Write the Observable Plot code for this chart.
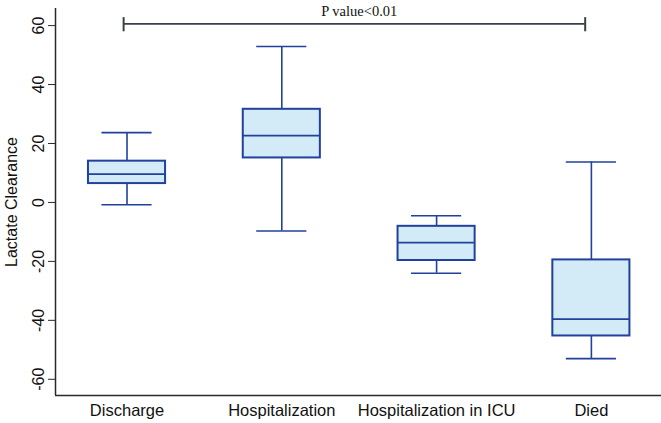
<!DOCTYPE html>
<html>
<head>
<meta charset="utf-8">
<script src="https://cdn.jsdelivr.net/npm/d3@7"></script>
<script src="https://cdn.jsdelivr.net/npm/@observablehq/plot@0.6"></script>
<style>
  html, body { margin: 0; padding: 0; background: #fff; }
  #chart { width: 661px; height: 423px; }
</style>
</head>
<body>
<div id="chart"></div>
<script>
const categories = ["Discharge", "Hospitalization", "Hospitalization in ICU", "Died"];
const whiskerLow  = [-0.8,  -9.7, -24.0, -53.0];
const q1          = [ 6.4,  15.1, -19.7, -45.3];
const median      = [ 9.6,  22.7, -13.6, -39.6];
const q3          = [14.0,  31.6,  -8.1, -19.5];
const whiskerHigh = [23.7,  52.9,  -4.5,  13.7];
const yTicks = [-60, -40, -20, 0, 20, 40, 60];
const yLabel = "Lactate Clearance";
const pLabel = "P value<0.01";
const bracketFrom = "Discharge", bracketTo = "Died";
const bracketY = 60.6;

const rows = categories.map((c, i) => ({
  i, c, lo: whiskerLow[i], q1: q1[i], med: median[i], q3: q3[i], hi: whiskerHigh[i]
}));

const xDomain = [-0.462, 3.453];
const yDomain = [-65.5, 65.8];
const boxHalf = 0.249, capHalf = 0.162;
const stroke = "#21419c";
const fill = "#d3ebf7";
const axisColor = "#2a2a2a";

const iFrom = categories.indexOf(bracketFrom), iTo = categories.indexOf(bracketTo);
const bracket = [{x1: iFrom - 0.022, x2: iTo - 0.04, y: bracketY}];
const bracketEnds = [{x: iFrom - 0.022}, {x: iTo - 0.04}];

const chart = Plot.plot({
  width: 661,
  height: 423,
  marginLeft: 55,
  marginRight: 0,
  marginTop: 8,
  marginBottom: 28,
  style: {fontFamily: "'Liberation Sans', Arial, sans-serif", background: "#fff"},
  x: {domain: xDomain, axis: null},
  y: {domain: yDomain, axis: null},
  marks: [
    // axes lines
    Plot.ruleX([xDomain[0]], {stroke: axisColor, strokeWidth: 1.5}),
    Plot.ruleY([yDomain[0]], {stroke: axisColor, strokeWidth: 1.5}),
    Plot.axisY({
      ticks: yTicks, tickSize: 7, tickPadding: 5, tickRotate: -90,
      tickFormat: (d) => String(d),
      fontSize: 16, stroke: axisColor, color: "#111",
      label: yLabel, labelAnchor: "center", labelOffset: 50, labelArrow: "none"
    }),
    Plot.axisX({
      ticks: categories.map((_, i) => i), tickSize: 0, tickPadding: 9,
      tickFormat: (d) => categories[d], fontSize: 16.5, color: "#111", label: null
    }),
    // whiskers
    Plot.ruleX(rows, {x: "i", y1: "lo", y2: "q1", stroke, strokeWidth: 1.6}),
    Plot.ruleX(rows, {x: "i", y1: "q3", y2: "hi", stroke, strokeWidth: 1.6}),
    Plot.ruleY(rows, {y: "lo", x1: (d) => d.i - capHalf, x2: (d) => d.i + capHalf, stroke, strokeWidth: 1.6}),
    Plot.ruleY(rows, {y: "hi", x1: (d) => d.i - capHalf, x2: (d) => d.i + capHalf, stroke, strokeWidth: 1.6}),
    // boxes
    Plot.rect(rows, {x1: (d) => d.i - boxHalf, x2: (d) => d.i + boxHalf, y1: "q1", y2: "q3", fill, stroke, strokeWidth: 2}),
    Plot.ruleY(rows, {y: "med", x1: (d) => d.i - boxHalf, x2: (d) => d.i + boxHalf, stroke, strokeWidth: 1.8}),
    // significance bracket
    Plot.ruleY(bracket, {y: "y", x1: "x1", x2: "x2", stroke: "#3a3f44", strokeWidth: 1.6}),
    Plot.ruleX(bracketEnds, {x: "x", y1: bracketY - 2.7, y2: bracketY + 2.1, stroke: "#3a3f44", strokeWidth: 2}),
    Plot.text([pLabel], {x: (iFrom + iTo) / 2, y: 63.3, text: (d) => d, lineAnchor: "bottom",
      fontFamily: "'Liberation Serif', 'Times New Roman', serif", fontSize: 14.5, fill: "#111"})
  ]
});
document.getElementById("chart").appendChild(chart);
</script>
</body>
</html>
